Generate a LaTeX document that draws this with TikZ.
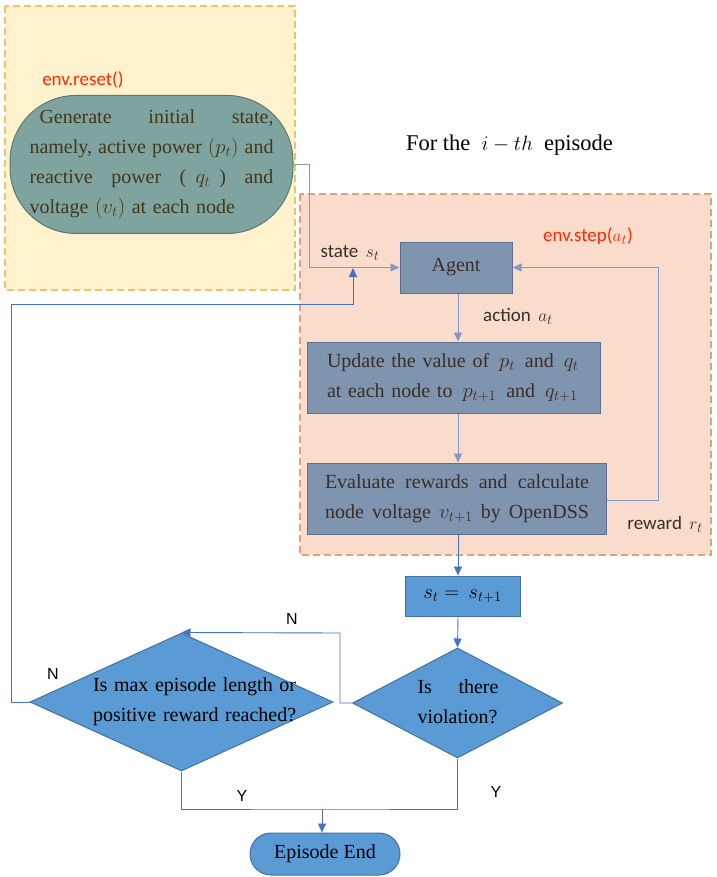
\documentclass[tikz,border=0pt]{standalone}
\usepackage{fontspec}
\setmainfont{Liberation Serif}
\newfontfamily\calfont{Carlito}
\newfontfamily\arfont{Liberation Sans}
\usetikzlibrary{arrows.meta,shapes.geometric}
\definecolor{resetzone}{HTML}{FFF2CC}
\definecolor{resetzoneline}{HTML}{EDC46A}
\definecolor{stepzone}{HTML}{F9DCCB}
\definecolor{stepzoneline}{HTML}{DDA37E}
\definecolor{resetfill}{HTML}{7FA39F}
\definecolor{resetline}{HTML}{5B7A73}
\definecolor{resettext}{HTML}{40391C}
\definecolor{boxfill}{HTML}{7F94AF}
\definecolor{boxline}{HTML}{5C6F8E}
\definecolor{boxtext}{HTML}{3A2E28}
\definecolor{flowtopline}{HTML}{8797C8}
\definecolor{bluefill}{HTML}{5B9BD5}
\definecolor{blueline}{HTML}{41719C}
\definecolor{flowblue}{HTML}{4472C4}
\definecolor{envred}{HTML}{FF2A00}
\newcommand\jline[2]{\leavevmode\hbox to #1{#2}}
\begin{document}
\begin{tikzpicture}[x=1pt,y=-1pt,
	every node/.style = {inner sep=0pt, font=\fontsize{20}{30}\selectfont},
	zone/.style = {dash pattern=on 7pt off 4pt, line width=1.1pt},
	greybox/.style = {shape=rectangle, draw=boxline, fill=boxfill, line width=1pt, text=boxtext},
	bluebox/.style = {shape=rectangle, draw=blueline, fill=bluefill, line width=1pt, text=black},
	decision/.style = {shape=diamond, draw=blueline, fill=bluefill, line width=1pt},
	flowtop/.style = {draw=flowtopline, line width=0.9pt, -{Triangle[length=9pt,width=8pt]}},
	flowbot/.style = {draw=flowblue, line width=0.9pt, -{Triangle[length=9pt,width=8pt]}},
	plainbot/.style = {draw=flowblue, line width=0.9pt},
	envlabel/.style = {text=envred, font=\calfont\fontsize{19}{22}\selectfont},
	sidelabel/.style = {text=boxtext, font=\calfont\fontsize{19}{22}\selectfont},
	yn/.style = {text=black, font=\arfont\fontsize{16}{18}\selectfont}]
	\useasboundingbox (0,0) rectangle (716,877);
	\draw[zone, draw=resetzoneline, fill=resetzone] (5,6) rectangle (295,290);
	\draw[zone, draw=stepzoneline, fill=stepzone] (300,194) rectangle (711,555);
	\node[envlabel] (resetlbl) at (83,80) {env.reset()};
	\node[draw=resetline, fill=resetfill, line width=1pt, rounded corners=66pt,
		minimum width=283pt, minimum height=138pt, text width=244pt, align=left,
		text=resettext] (reset) at (151.5,164.5)
		{\jline{244pt}{\hspace*{10pt}Generate\hfill initial\hfill state,}\\
		 \jline{244pt}{namely,\hfill active\hfill power\hfill $(p_t)$\hfill and}\\
		 \jline{244pt}{reactive\hfill\hfill power\hfill\hfill (\hfill$q_t$\hfill)\hfill\hfill and}\\
		 voltage $(v_t)$ at each node};
	\node (title) at (509.5,145) {\fontsize{22.5}{26}\selectfont For the \ $i-th$\ \ episode};
	\node[envlabel] (steplbl) at (588,236) {env.step($a_t$)};
	\node[greybox, minimum width=112pt, minimum height=51pt] (agent) at (456,267.5) {Agent};
	\node[greybox, minimum width=293pt, minimum height=71pt, text width=253pt, align=left] (update) at (453.5,377.5)
		{\mbox{Update the value of \,$p_t$\, and \,$q_t$}\\
		 \mbox{at each node to \,$p_{t+1}$\, and \,$q_{t+1}$}};
	\node[greybox, minimum width=299pt, minimum height=71pt, text width=264pt, align=left] (evaluate) at (457,498.5)
		{\jline{264pt}{Evaluate\hfill rewards\hfill and\hfill calculate}\\
		 \jline{264pt}{node\hfill voltage\hfill $v_{t+1}$\hfill by\hfill OpenDSS}};
	\node[sidelabel] (statelbl) at (350,253) {state \,$s_t$};
	\node[sidelabel] (actionlbl) at (518,316) {action \,$a_t$};
	\node[sidelabel] (rewardlbl) at (665,524) {reward \,$r_t$};
	\node[bluebox, minimum width=115pt, minimum height=40pt] (update2) at (462.5,596) {$s_t = \,s_{t+1}$};
	\node[decision, minimum width=210pt, minimum height=110pt] (viol) at (457.5,703) {};
	\node[text width=81pt, align=left] (violtext) at (458,702)
		{\jline{81pt}{Is\hfill there}\\violation?};
	\node[decision, minimum width=303pt, minimum height=138pt] (maxq) at (181.5,702) {};
	\node[text width=203pt, align=left] (maxqtext) at (194.5,702)
		{\jline{203pt}{Is\hfill max\hfill episode\hfill length\hfill or}\\\mbox{positive reward reached?}};
	\node[bluebox, rounded corners=21pt, minimum width=150pt, minimum height=42pt] (finish) at (325,854) {Episode End};
	\node[yn] (nTop) at (292,619) {N};
	\node[yn] (nLeft) at (53,674) {N};
	\node[yn] (yLeft) at (242,796) {Y};
	\node[yn] (yRight) at (496,792) {Y};
	\coordinate (axis) at (458,0);
	\coordinate (bend1) at (309,164.5);
	\coordinate (rbend) at (658,500);
	\coordinate (fbL) at (11,304);
	\coordinate (fbR) at (353,304);
	\coordinate (fbIn) at (353,268);
	\coordinate (loopR) at (340,633);
	\coordinate (join) at (322,809);
	\draw[flowtop] (reset.east) -- (bend1) |- (agent.west);
	\draw[flowtop] (agent.south -| axis) -- (update.north -| axis);
	\draw[flowtop] (update.south -| axis) -- (evaluate.north -| axis);
	\draw[flowtop] (evaluate.east |- rbend) -- (rbend) |- (agent.east);
	\draw[flowbot] (maxq.west) -| (fbL) -- (fbR) -- (fbIn);
	\draw[flowbot] (evaluate.south -| axis) -- (update2.north -| axis);
	\draw[flowbot] (update2.south -| axis) -- (viol.north);
	\draw[flowbot] (viol.west) -- (viol.west -| loopR) -- (loopR) -- (maxq.north);
	\draw[plainbot] (maxq.south) |- (join) -| (viol.south);
	\draw[flowbot] (join) -- (finish.north -| join);
\end{tikzpicture}
\end{document}
